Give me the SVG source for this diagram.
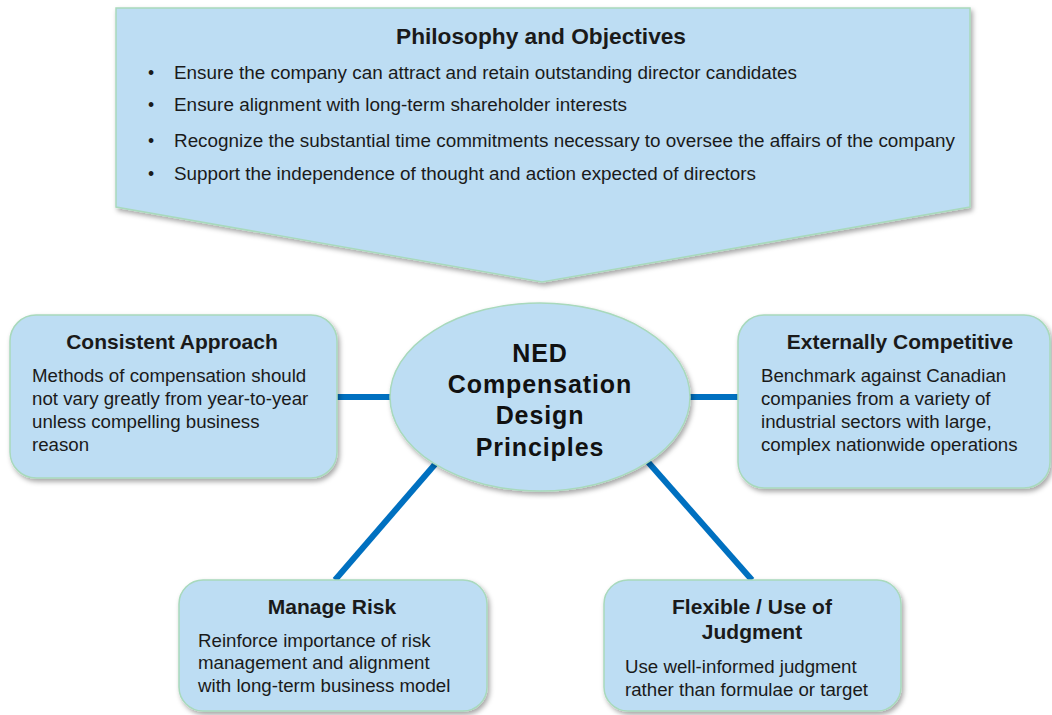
<svg xmlns="http://www.w3.org/2000/svg" width="1052" height="715" viewBox="0 0 1052 715">
<defs>
<filter id="sh" x="-10%" y="-10%" width="120%" height="130%">
<feDropShadow dx="2" dy="3" stdDeviation="2.5" flood-color="#000" flood-opacity="0.35"/>
</filter>
</defs>
<style>
.shape{fill:#BDDDF3;stroke:#A8D9BC;stroke-width:1.5;filter:url(#sh)}
.title{font-family:"Liberation Sans",Arial,sans-serif;font-weight:bold;font-size:21px;fill:#1a1a1a;text-anchor:middle}
.body{font-family:"Liberation Sans",Arial,sans-serif;font-size:18.7px;fill:#1a1a1a}
.top{font-family:"Liberation Sans",Arial,sans-serif;font-size:17.5px;fill:#1a1a1a}
.center{font-family:"Liberation Sans",Arial,sans-serif;font-weight:bold;font-size:25px;fill:#111;text-anchor:middle;letter-spacing:0.9px}
.conn{stroke:#0070C0;stroke-width:6;fill:none}
</style>
<rect width="1052" height="715" fill="#fff"/>
<g id="connectors">
<line class="conn" x1="336" y1="397" x2="392" y2="397"/>
<line class="conn" x1="688" y1="397" x2="740" y2="397"/>
<line class="conn" x1="437" y1="462" x2="335" y2="580"/>
<line class="conn" x1="648" y1="462" x2="752" y2="580"/>
</g>
<g id="philosophy">
<polygon class="shape" points="116,8 970,8 970,207 542,282 116,207"/>
<text class="title" x="541" y="44" style="font-size:22px" textLength="290" lengthAdjust="spacingAndGlyphs">Philosophy and Objectives</text>
<g class="top">
<text x="148" y="79">•</text><text x="174" y="79" textLength="623" lengthAdjust="spacingAndGlyphs">Ensure the company can attract and retain outstanding director candidates</text>
<text x="148" y="111">•</text><text x="174" y="111" textLength="453" lengthAdjust="spacingAndGlyphs">Ensure alignment with long-term shareholder interests</text>
<text x="148" y="147">•</text><text x="174" y="147" textLength="781" lengthAdjust="spacingAndGlyphs">Recognize the substantial time commitments necessary to oversee the affairs of the company</text>
<text x="148" y="180">•</text><text x="174" y="180" textLength="582" lengthAdjust="spacingAndGlyphs">Support the independence of thought and action expected of directors</text>
</g>
</g>
<g id="consistent">
<rect class="shape" x="10" y="315" width="327" height="163" rx="26"/>
<text class="title" x="172" y="349">Consistent Approach</text>
<g class="body">
<text x="32" y="382">Methods of compensation should</text>
<text x="32" y="405">not vary greatly from year-to-year</text>
<text x="32" y="428">unless compelling business</text>
<text x="32" y="451">reason</text>
</g>
</g>
<g id="external">
<rect class="shape" x="738" y="315" width="312" height="173" rx="26"/>
<text class="title" x="900" y="349">Externally Competitive</text>
<g class="body">
<text x="761" y="382">Benchmark against Canadian</text>
<text x="761" y="405">companies from a variety of</text>
<text x="761" y="428">industrial sectors with large,</text>
<text x="761" y="451">complex nationwide operations</text>
</g>
</g>
<g id="ned">
<ellipse class="shape" cx="540" cy="397" rx="150" ry="94"/>
<text class="center" x="540" y="362">NED</text>
<text class="center" x="540" y="393">Compensation</text>
<text class="center" x="540" y="424">Design</text>
<text class="center" x="540" y="456">Principles</text>
</g>
<g id="risk">
<rect class="shape" x="179" y="580" width="308" height="131" rx="24"/>
<text class="title" x="332" y="614">Manage Risk</text>
<g class="body">
<text x="198" y="647">Reinforce importance of risk</text>
<text x="198" y="669">management and alignment</text>
<text x="198" y="692">with long-term business model</text>
</g>
</g>
<g id="flexible">
<rect class="shape" x="604" y="580" width="297" height="131" rx="24"/>
<text class="title" x="752" y="614">Flexible / Use of</text>
<text class="title" x="752" y="639">Judgment</text>
<g class="body">
<text x="625" y="673">Use well-informed judgment</text>
<text x="625" y="696">rather than formulae or target</text>
</g>
</g>
</svg>
